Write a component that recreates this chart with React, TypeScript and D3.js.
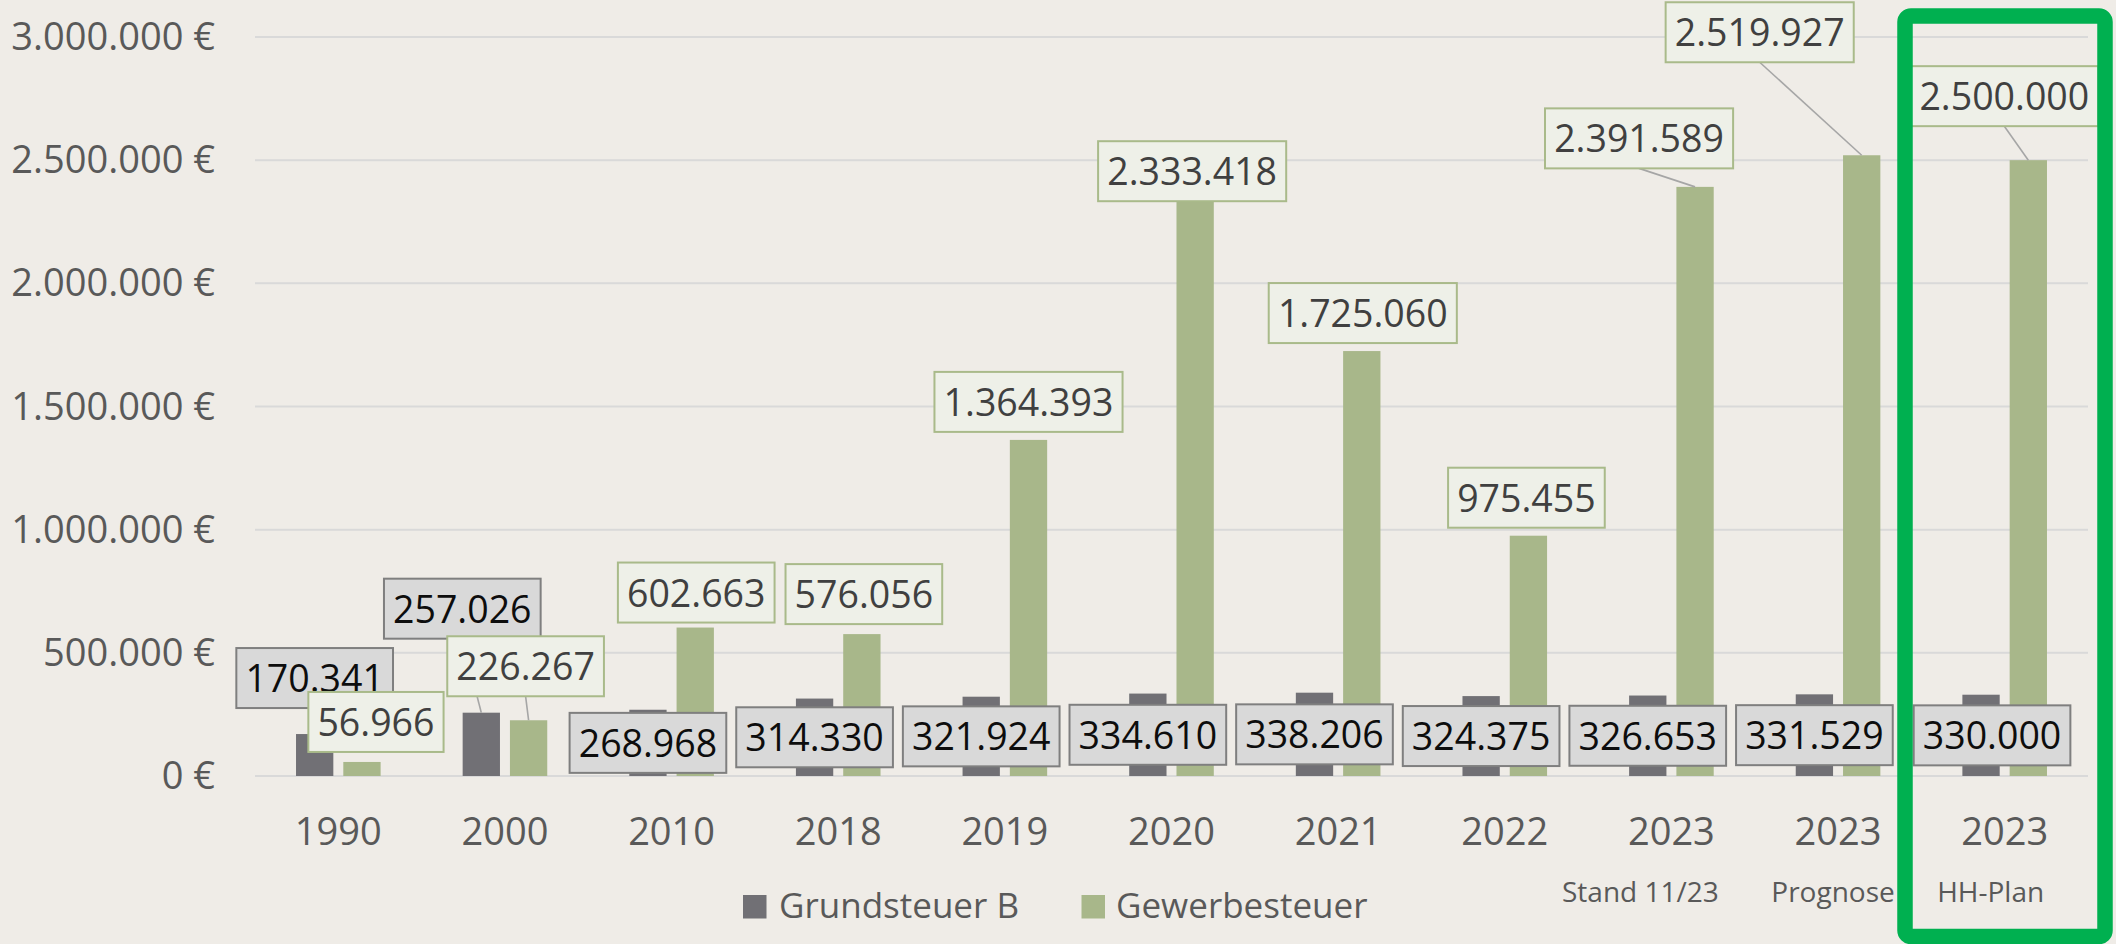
import React from "react";
import * as d3 from "d3";

// ---- data ----
const categories = ["1990", "2000", "2010", "2018", "2019", "2020", "2021", "2022", "2023", "2023", "2023"];
const subLabels = ["", "", "", "", "", "", "", "", "Stand 11/23", "Prognose", "HH-Plan"];
const grundsteuerB = [170341, 257026, 268968, 314330, 321924, 334610, 338206, 324375, 326653, 331529, 330000];
const gewerbesteuer = [56966, 226267, 602663, 576056, 1364393, 2333418, 1725060, 975455, 2391589, 2519927, 2500000];
const yTicks = [0, 500000, 1000000, 1500000, 2000000, 2500000, 3000000];
const seriesNames = ["Grundsteuer B", "Gewerbesteuer"];

// ---- label placement (manual, as in the original) ----
// mode "center": centred in bar; "above": box bottom `gap` px above bar top, shifted dx
const grundLabelLayout = [
  { mode: "above", dx: 0, gap: 26 },
  { mode: "above", dx: -19, gap: 74 },
  { mode: "center", dx: 0, gap: 0 },
  { mode: "center", dx: 0, gap: 0 },
  { mode: "center", dx: 0, gap: 0 },
  { mode: "center", dx: 0, gap: 0 },
  { mode: "center", dx: 0, gap: 0 },
  { mode: "center", dx: 0, gap: 0 },
  { mode: "center", dx: 0, gap: 0 },
  { mode: "center", dx: 0, gap: 0 },
  { mode: "center", dx: 11, gap: 0 },
];
const gewerbeLabelLayout = [
  { dx: 14, gap: 10 },
  { dx: -3, gap: 24 },
  { dx: 1, gap: 5 },
  { dx: 2, gap: 10 },
  { dx: 0, gap: 8 },
  { dx: -3, gap: 0 },
  { dx: 1, gap: 8 },
  { dx: -2, gap: 8 },
  { dx: -56, gap: 18.5 },
  { dx: -102, gap: 93 },
  { dx: -24, gap: 34 },
];
const subLabelDx = [0, 0, 0, 0, 0, 0, 0, 0, -31, -5, -14];

// ---- styles ----
const W = 2116;
const H = 944;
const BG = "#EFECE7";
const DARK = "#717075";
const GREEN = "#A8B78A";
const GRID = "#D9D9D9";
const AXIS_TEXT = "#595959";
const FONT = "'Open Sans', 'Noto Sans', sans-serif";
const LABEL_FS = 37.5;
const BOX_H = 60;

const locale = d3.formatLocale({ decimal: ",", thousands: ".", grouping: [3], currency: ["", " €"] });
const fmtNum = locale.format(",d");
const fmtEur = (v: number) => fmtNum(v) + " €";

function textWidth(s: string, fs: number) {
  let w = 0;
  for (const c of s) w += c === "." ? 0.266 : 0.572;
  return w * fs;
}

export default function App() {
  const left = 255;
  const right = 2088;
  const step = (right - left) / categories.length;
  const groupW = 84.6;
  const pad = 1 - groupW / step;

  const idx = categories.map((_, i) => String(i));
  const x0 = d3.scaleBand<string>().domain(idx).range([left, right]).paddingInner(pad).paddingOuter(pad / 2);
  const x1 = d3.scaleBand<string>().domain(seriesNames).range([0, x0.bandwidth()]).paddingInner(0.211);
  const y = d3.scaleLinear().domain([0, 3000000]).range([776, 37]);

  const bw = x1.bandwidth();

  type Lab = { cx: number; cy: number; text: string; kind: "dark" | "green"; leader?: [number, number, number, number] };
  const darkLabels: Lab[] = [];
  const greenLabels: Lab[] = [];

  categories.forEach((_, i) => {
    const gx = x0(String(i))!;
    // dark
    const dxBar = gx + x1(seriesNames[0])! + bw / 2;
    const dTop = y(grundsteuerB[i]);
    const dl = grundLabelLayout[i];
    if (dl.mode === "center") {
      darkLabels.push({ cx: dxBar + dl.dx, cy: (dTop + y(0)) / 2, text: fmtNum(grundsteuerB[i]), kind: "dark" });
    } else {
      const bottom = dTop - dl.gap;
      darkLabels.push({
        cx: dxBar + dl.dx,
        cy: bottom - BOX_H / 2,
        text: fmtNum(grundsteuerB[i]),
        kind: "dark",
        leader: dl.gap > 20 ? [dxBar + dl.dx, bottom, dxBar, dTop] : undefined,
      });
    }
    // green
    const gxBar = gx + x1(seriesNames[1])! + bw / 2;
    const gTop = y(gewerbesteuer[i]);
    const gl = gewerbeLabelLayout[i];
    const gb = gTop - gl.gap;
    greenLabels.push({
      cx: gxBar + gl.dx,
      cy: gb - BOX_H / 2,
      text: fmtNum(gewerbesteuer[i]),
      kind: "green",
      leader: gl.gap > 15 ? [gxBar + gl.dx, gb, gxBar, gTop] : undefined,
    });
  });

  const renderLabel = (l: Lab, key: string) => {
    const tw = textWidth(l.text, LABEL_FS);
    const bwid = tw + 18;
    const dark = l.kind === "dark";
    return (
      <g key={key}>
        <rect
          x={l.cx - bwid / 2}
          y={l.cy - BOX_H / 2}
          width={bwid}
          height={BOX_H}
          fill={dark ? "#D9D9D9" : "#EEF0E8"}
          stroke={dark ? "#7F7F7F" : "#A9BA8A"}
          strokeWidth={2}
        />
        <text
          x={l.cx}
          y={l.cy + 14}
          textAnchor="middle"
          fontFamily={FONT}
          fontSize={LABEL_FS}
          fill={dark ? "#0D0D0D" : "#404040"}
        >
          {l.text}
        </text>
      </g>
    );
  };

  const allLabels = [...darkLabels, ...greenLabels];

  return (
    <svg
      width={W}
      height={H}
      viewBox={`0 0 ${W} ${H}`}
      style={{ position: "absolute", left: 0, top: 0, display: "block" }}
    >
      <rect x={0} y={0} width={W} height={H} fill={BG} />

      {/* gridlines */}
      {yTicks.map((t) => (
        <line key={"g" + t} x1={left} x2={right} y1={y(t)} y2={y(t)} stroke={GRID} strokeWidth={2} />
      ))}

      {/* y labels */}
      {yTicks.map((t) => (
        <text
          key={"yl" + t}
          x={215}
          y={y(t) + 13}
          textAnchor="end"
          fontFamily={FONT}
          fontSize={38}
          fill={AXIS_TEXT}
        >
          {fmtEur(t)}
        </text>
      ))}

      {/* bars */}
      {categories.map((_, i) => {
        const gx = x0(String(i))!;
        return (
          <g key={"b" + i}>
            <rect
              x={gx + x1(seriesNames[0])!}
              y={y(grundsteuerB[i])}
              width={bw}
              height={y(0) - y(grundsteuerB[i])}
              fill={DARK}
            />
            <rect
              x={gx + x1(seriesNames[1])!}
              y={y(gewerbesteuer[i])}
              width={bw}
              height={y(0) - y(gewerbesteuer[i])}
              fill={GREEN}
            />
          </g>
        );
      })}

      {/* leader lines */}
      {allLabels
        .filter((l) => l.leader)
        .map((l, i) => (
          <line
            key={"ld" + i}
            x1={l.leader![0]}
            y1={l.leader![1]}
            x2={l.leader![2]}
            y2={l.leader![3]}
            stroke="#A6A6A6"
            strokeWidth={1.6}
          />
        ))}

      {darkLabels.map((l, i) => renderLabel(l, "dl" + i))}
      {greenLabels.map((l, i) => renderLabel(l, "gl" + i))}

      {/* x labels */}
      {categories.map((c, i) => {
        const cx = x0(String(i))! + x0.bandwidth() / 2;
        return (
          <g key={"xl" + i}>
            <text x={cx} y={845} textAnchor="middle" fontFamily={FONT} fontSize={38} fill={AXIS_TEXT}>
              {c}
            </text>
            {subLabels[i] && (
              <text
                x={cx + subLabelDx[i]}
                y={901.5}
                textAnchor="middle"
                fontFamily={FONT}
                fontSize={28}
                fill={AXIS_TEXT}
              >
                {subLabels[i]}
              </text>
            )}
          </g>
        );
      })}

      {/* legend */}
      <g>
        <rect x={743} y={895} width={23.5} height={23.5} fill={DARK} />
        <text x={779} y={917.5} fontFamily={FONT} fontSize={35} fill={AXIS_TEXT}>
          {seriesNames[0]}
        </text>
        <rect x={1081.5} y={895} width={23.5} height={23.5} fill={GREEN} />
        <text x={1116} y={917.5} fontFamily={FONT} fontSize={35} fill={AXIS_TEXT}>
          {seriesNames[1]}
        </text>
      </g>

      {/* highlight frame */}
      <rect x={1905} y={16} width={200} height={920.5} rx={6} fill="none" stroke="#00B050" strokeWidth={15.5} />
    </svg>
  );
}
